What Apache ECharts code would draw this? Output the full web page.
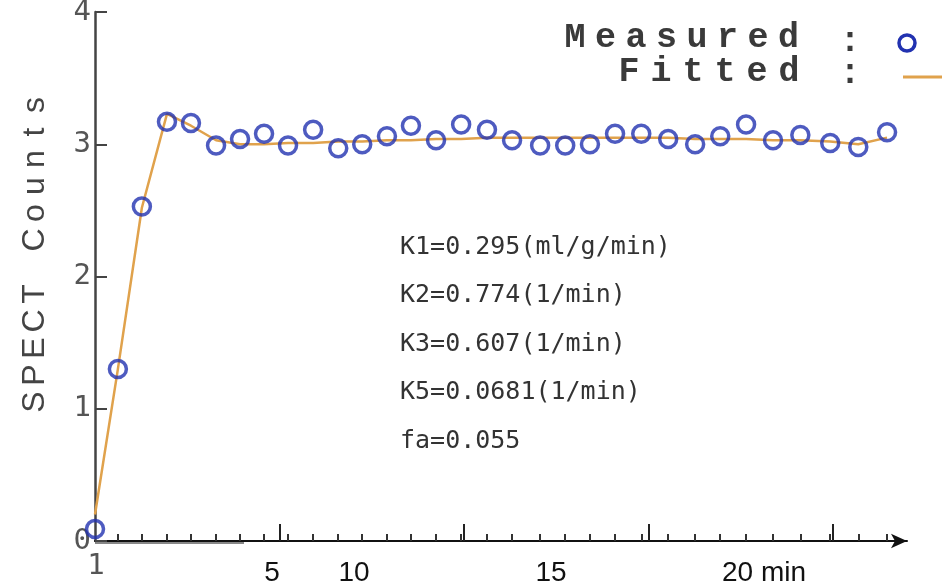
<!DOCTYPE html>
<html>
<head>
<meta charset="utf-8">
<script src="https://cdn.jsdelivr.net/npm/echarts@6/dist/echarts.min.js"></script>
<style>
  html, body { margin: 0; padding: 0; background: #fff; }
  #main { width: 942px; height: 587px; }
</style>
</head>
<body>
<div id="main"></div>
<script>
// frame times (min) and counts
var times = [0, 0.62, 1.27, 1.95, 2.60, 3.28, 3.93, 4.58, 5.23, 5.91, 6.59, 7.24, 7.91, 8.56, 9.24, 9.92,
	10.62, 11.30, 12.06, 12.74, 13.41, 14.09, 14.80, 15.53, 16.26, 16.94, 17.64, 18.37, 19.11, 19.92, 20.68, 21.46];
var measured = [0.09, 1.30, 2.53, 3.17, 3.16, 2.99, 3.04, 3.08, 2.99, 3.11, 2.97, 3.00, 3.06, 3.14, 3.03, 3.15,
	3.11, 3.03, 2.99, 2.99, 3.00, 3.08, 3.08, 3.04, 3.00, 3.06, 3.15, 3.03, 3.07, 3.01, 2.98, 3.09];
var fitted = [0.20, 1.30, 2.52, 3.23, 3.14, 3.03, 3.00, 3.00, 3.01, 3.01, 3.02, 3.02, 3.03, 3.03, 3.04, 3.04,
	3.05, 3.05, 3.05, 3.05, 3.05, 3.05, 3.05, 3.05, 3.04, 3.04, 3.04, 3.03, 3.03, 3.02, 3.00, 3.05];
var majorTicks = [5, 10, 15, 20];
var params = ['K1=0.295(ml/g/min)', 'K2=0.774(1/min)', 'K3=0.607(1/min)', 'K5=0.0681(1/min)', 'fa=0.055'];

var monoFont = '"DejaVu Sans Mono", monospace';
var legendFont = 'bold 35px "Liberation Mono", monospace';
var blue = '#2232b0';
var orange = '#e0a24c';

function pairs(xs, ys) {
	var out = [];
	for (var i = 0; i < xs.length; i++) {
		out.push([xs[i], ys[i]]);
	}
	return out;
}

// one text element per letter, to get the wide letter spacing of the original
function spaced(str, x, y, pitch, font, fill, vertical) {
	var els = [];
	for (var i = 0; i < str.length; i++) {
		if (str[i] == ' ') continue;
		els.push({
			type: 'text',
			x: vertical ? x : x + i * pitch,
			y: vertical ? y - i * pitch : y,
			rotation: vertical ? Math.PI / 2 : 0,
			style: { text: str[i], font: font, fill: fill, align: 'center', verticalAlign: 'middle' }
		});
	}
	return els;
}

var graphics = [];
graphics = graphics.concat(spaced('SPECT Counts', 35, 402, 27, '32px "Liberation Sans", Arial', '#444', true));
graphics = graphics.concat(spaced('Measured', 575, 38, 30.5, legendFont, '#3a3a3a', false));
graphics = graphics.concat(spaced('Fitted', 629, 72, 32, legendFont, '#3a3a3a', false));
graphics.push(
	{ type: 'text', x: 850, y: 42, style: { text: ':', font: legendFont, fill: '#3a3a3a', align: 'center', verticalAlign: 'middle' } },
	{ type: 'text', x: 850, y: 74, style: { text: ':', font: legendFont, fill: '#3a3a3a', align: 'center', verticalAlign: 'middle' } },
	{ type: 'circle', shape: { cx: 907, cy: 43, r: 8 }, style: { fill: 'none', stroke: blue, lineWidth: 3.5 } },
	{ type: 'line', shape: { x1: 903, y1: 77, x2: 942, y2: 77 }, style: { stroke: orange, lineWidth: 3 } },
	{ type: 'line', shape: { x1: 95, y1: 543, x2: 244, y2: 543 }, style: { stroke: '#888', lineWidth: 2 } },
	{ type: 'text', x: 96, y: 566, style: { text: '1', font: '29px ' + monoFont, fill: '#555', align: 'center', verticalAlign: 'middle' } },
	{ type: 'text', x: 272, y: 573, style: { text: '5', font: '28px "Liberation Sans", Arial', fill: '#111', align: 'center', verticalAlign: 'middle' } },
	{ type: 'text', x: 354, y: 573, style: { text: '10', font: '28px "Liberation Sans", Arial', fill: '#111', align: 'center', verticalAlign: 'middle' } },
	{ type: 'text', x: 551, y: 573, style: { text: '15', font: '28px "Liberation Sans", Arial', fill: '#111', align: 'center', verticalAlign: 'middle' } },
	{ type: 'text', x: 722, y: 573, style: { text: '20 min', font: '28px "Liberation Sans", Arial', fill: '#111', align: 'left', verticalAlign: 'middle' } }
);
for (var i = 0; i < params.length; i++) {
	graphics.push({
		type: 'text', x: 400, y: 247 + i * 48.5,
		style: { text: params[i], font: '25px ' + monoFont, fill: '#333', align: 'left', verticalAlign: 'middle' }
	});
}

var myChart = echarts.init(document.getElementById('main'));
var option = {
	backgroundColor: '#fff',
	animation: false,
	grid: { left: 95, right: 35, top: 12, bottom: 46, outerBoundsMode: 'none' },
	xAxis: [{
		type: 'value',
		min: 0,
		max: 22,
		splitLine: { show: false },
		axisLine: { show: true, lineStyle: { color: '#111', width: 2 }, symbol: ['none', 'arrow'], symbolSize: [11, 16] },
		axisTick: { show: true, inside: true, length: 7, customValues: times.slice(1), lineStyle: { color: '#333', width: 2 } },
		axisLabel: { show: false }
	}, {
		type: 'value',
		min: 0,
		max: 22,
		position: 'bottom',
		splitLine: { show: false },
		axisLine: { show: false },
		axisTick: { show: true, inside: true, length: 17, customValues: majorTicks, lineStyle: { color: '#222', width: 2 } },
		axisLabel: { show: false }
	}],
	yAxis: {
		type: 'value',
		min: 0,
		max: 4,
		interval: 1,
		splitLine: { show: false },
		axisLine: { show: true, lineStyle: { color: '#444', width: 2.5 } },
		axisTick: { show: true, inside: true, length: 12, lineStyle: { color: '#444', width: 2 } },
		axisLabel: { margin: 4, fontFamily: monoFont, fontSize: 29, color: '#555' }
	},
	series: [{
		name: 'Fitted',
		type: 'line',
		xAxisIndex: 0,
		data: pairs(times, fitted),
		symbol: 'none',
		lineStyle: { color: orange, width: 2.5 },
		z: 2
	}, {
		name: 'Measured',
		type: 'scatter',
		xAxisIndex: 0,
		data: pairs(times, measured),
		symbol: 'circle',
		symbolSize: 17,
		itemStyle: { color: 'rgba(255,255,255,0)', borderColor: blue, borderWidth: 3.5 },
		z: 3
	}],
	graphic: graphics
};
myChart.setOption(option, true);
</script>
</body>
</html>
